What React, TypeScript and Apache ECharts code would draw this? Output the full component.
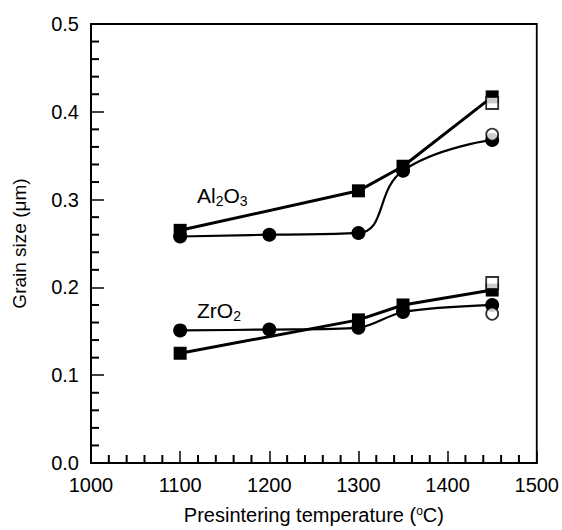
import React, { useEffect, useRef } from "react";
import * as echarts from "echarts";

const FONT = "'Liberation Sans', Arial, Helvetica, sans-serif";

// Presintering temperatures (°C)
const tempsSquare = [1100, 1300, 1350, 1450];
const tempsCircle = [1100, 1200, 1300, 1350, 1450];

// Al2O3 grain size (µm)
const al2o3Square = [0.265, 0.31, 0.338, 0.417];
const al2o3Circle = [0.258, 0.26, 0.262, 0.333, 0.368];
const al2o3OpenSquare = [[1450, 0.41]];
const al2o3OpenCircle = [[1450, 0.374]];

// ZrO2 grain size (µm)
const zro2Square = [0.125, 0.163, 0.18, 0.197];
const zro2Circle = [0.151, 0.152, 0.154, 0.172, 0.18];
const zro2OpenSquare = [[1450, 0.205]];
const zro2OpenCircle = [[1450, 0.17]];

const xTicks = [1000, 1100, 1200, 1300, 1400, 1500];
const yTicks = [0, 0.1, 0.2, 0.3, 0.4, 0.5];
const xMinorTicks = [
  1020, 1040, 1060, 1080, 1120, 1140, 1160, 1180, 1220, 1240,
  1260, 1280, 1320, 1340, 1360, 1380, 1420, 1440, 1460, 1480,
];
const yMinorTicks = [
  0.02, 0.04, 0.06, 0.08, 0.12, 0.14, 0.16, 0.18, 0.22, 0.24,
  0.26, 0.28, 0.32, 0.34, 0.36, 0.38, 0.42, 0.44, 0.46, 0.48,
];

const zip = (xs: number[], ys: number[]) => xs.map((x, i) => [x, ys[i]]);

export default function App() {
  const ref = useRef<HTMLDivElement>(null);
  useEffect(() => {
    if (!ref.current) return;
    const chart = echarts.init(ref.current, null, { renderer: "svg" });
    const lineSeries = (data: number[][], symbol: string, size: number, width: number, smooth: number | boolean) => ({
      type: "line",
      data,
      symbol,
      symbolSize: size,
      showSymbol: true,
      smooth,
      lineStyle: { color: "#000", width },
      itemStyle: { color: "#000", borderColor: "#000", borderWidth: 0 },
      z: 3,
    });
    const openSeries = (data: number[][], symbol: string, size: number) => ({
      type: "scatter",
      data,
      symbol,
      symbolSize: size,
      itemStyle: { color: "#fff", borderColor: "#000", borderWidth: 1.8 },
      z: 4,
    });
    const minorTickSeries = (data: number[][], horizontal: boolean, len: number) => ({
      type: "custom",
      coordinateSystem: "cartesian2d",
      data,
      silent: true,
      clip: false,
      z: 5,
      renderItem: (_params: any, api: any) => {
        const p = api.coord([api.value(0), api.value(1)]);
        return {
          type: "rect",
          shape: horizontal
            ? { x: p[0], y: p[1] - 1, width: len, height: 2 }
            : { x: p[0] - 1, y: p[1] - len, width: 2, height: len },
          style: { fill: "#000" },
        };
      },
    });
    const subLabel = (a: string, b: string, c: string, d?: string) => {
      let s = `{n|${a}}{s|${b}}`;
      if (c) s += `{n|${c}}`;
      if (d) s += `{s|${d}}`;
      return s;
    };
    const rich = {
      n: { fontSize: 21, fontFamily: FONT, color: "#000", lineHeight: 24, verticalAlign: "middle" },
      s: { fontSize: 14, fontFamily: FONT, color: "#000", lineHeight: 10, verticalAlign: "bottom" },
    };
    const axisLineStyle = { show: true, onZero: false, lineStyle: { color: "#000", width: 2 } };
    chart.setOption({
      animation: false,
      backgroundColor: "#fff",
      grid: {
        left: 91,
        right: 23,
        top: 24,
        bottom: 67,
        show: true,
        borderColor: "#000",
        borderWidth: 1.8,
        backgroundColor: "transparent",
      },
      xAxis: {
        type: "value",
        min: xTicks[0],
        max: xTicks[xTicks.length - 1],
        interval: 100,
        name: "Presintering temperature ({sup|o}C)",
        nameLocation: "middle",
        nameGap: 42,
        nameTextStyle: {
          fontSize: 20,
          fontFamily: FONT,
          color: "#000",
          rich: {
            sup: { fontSize: 12, fontFamily: FONT, color: "#000", verticalAlign: "top", lineHeight: 14 },
          },
        },
        axisLine: axisLineStyle,
        axisTick: { show: true, inside: true, length: 12, lineStyle: { color: "#000", width: 1.5 } },
        axisLabel: { fontSize: 20, fontFamily: FONT, color: "#000", margin: 12, formatter: (v: number) => String(v) },
        splitLine: { show: false },
      },
      yAxis: {
        type: "value",
        min: yTicks[0],
        max: yTicks[yTicks.length - 1],
        interval: 0.1,
        name: "Grain size (\u03bcm)",
        nameLocation: "middle",
        nameGap: 62,
        nameTextStyle: { fontSize: 19, fontFamily: FONT, color: "#000" },
        axisLine: axisLineStyle,
        axisTick: { show: true, inside: true, length: 13, lineStyle: { color: "#000", width: 1.5 } },
        axisLabel: {
          fontSize: 20,
          fontFamily: FONT,
          color: "#000",
          margin: 12,
          formatter: (v: number) => v.toFixed(1),
        },
        splitLine: { show: false },
      },
      graphic: [
        {
          type: "text",
          left: 197,
          top: 185,
          style: { text: subLabel("Al", "2", "O", "3"), rich },
        },
        {
          type: "text",
          left: 197,
          top: 300,
          style: { text: subLabel("ZrO", "2", ""), rich },
        },
      ],
      series: [
        minorTickSeries(xMinorTicks.map((v) => [v, yTicks[0]]), false, 8),
        minorTickSeries(yMinorTicks.map((v) => [xTicks[0], v]), true, 8),
        lineSeries(zip(tempsSquare, al2o3Square), "rect", 13, 3, false),
        lineSeries(zip(tempsCircle, al2o3Circle), "circle", 14, 2.2, 0.45),
        lineSeries(zip(tempsSquare, zro2Square), "rect", 13, 3, false),
        lineSeries(zip(tempsCircle, zro2Circle), "circle", 14, 2.2, 0.3),
        openSeries(al2o3OpenSquare, "rect", 12),
        openSeries(al2o3OpenCircle, "circle", 12),
        openSeries(zro2OpenSquare, "rect", 12),
        openSeries(zro2OpenCircle, "circle", 12),
      ],
    });
    return () => chart.dispose();
  }, []);
  return (
    <div
      ref={ref}
      style={{ position: "fixed", left: 0, top: 0, width: 562, height: 530, background: "#fff" }}
    />
  );
}
